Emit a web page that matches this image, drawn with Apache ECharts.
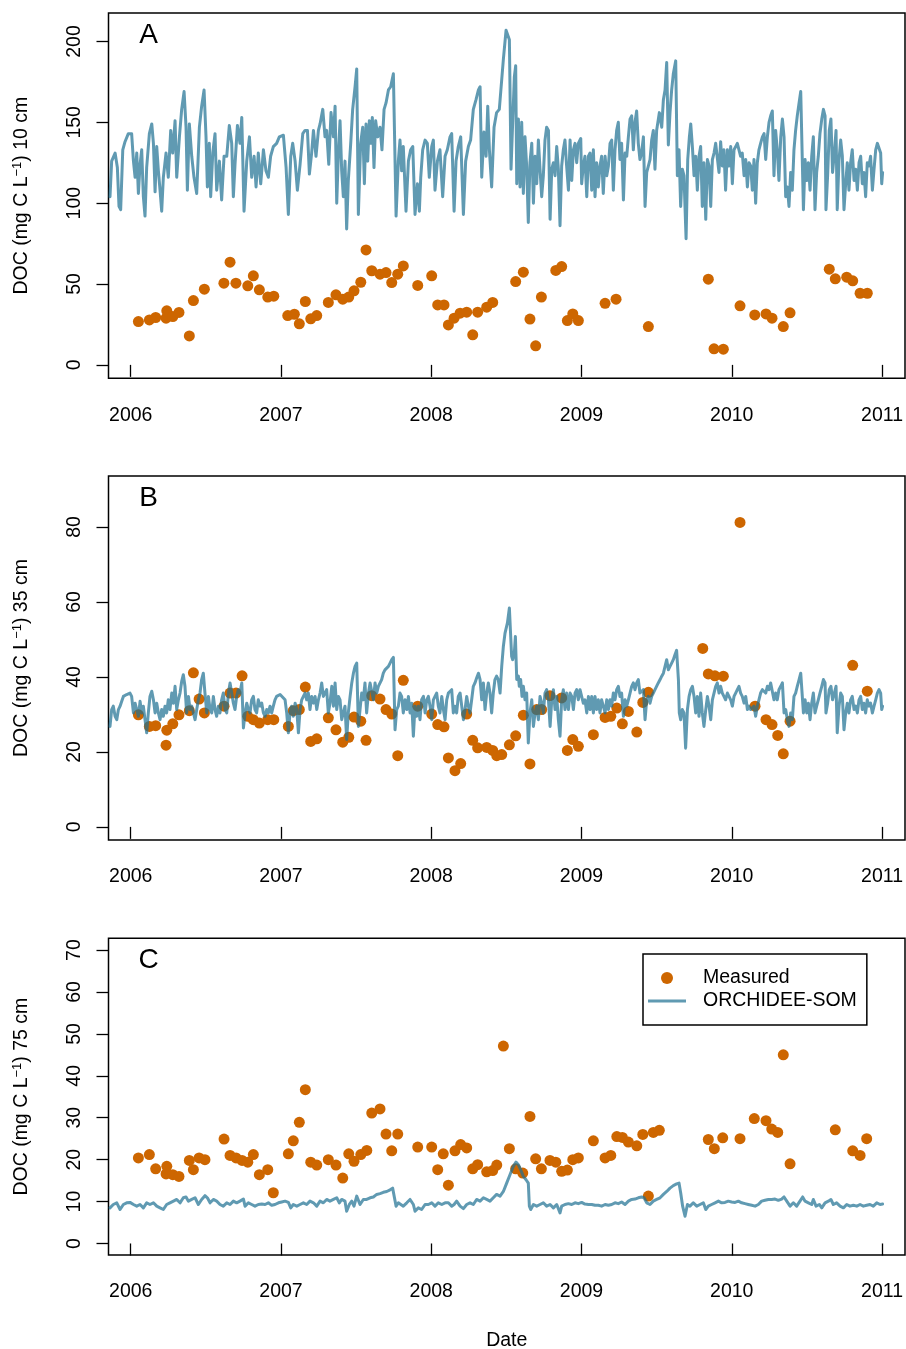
<!DOCTYPE html>
<html>
<head>
<meta charset="utf-8">
<script src="https://cdn.jsdelivr.net/npm/echarts@6/dist/echarts.min.js"></script>
<style>
html,body{margin:0;padding:0;background:#fff}
#chart{width:906px;height:1349px}
</style>
</head>
<body>
<div id="chart"></div>
<script>
// ---- data (dates as decimal years, DOC in mg C L-1) ----
const yearTicks = [2006, 2007, 2008, 2009, 2010, 2011];
const ticksA = [0, 50, 100, 150, 200];
const ticksB = [0, 20, 40, 60, 80];
const ticksC = [0, 10, 20, 30, 40, 50, 60, 70];
const panelLetters = ['A', 'B', 'C'];
const depthLabels = ['10 cm', '35 cm', '75 cm'];
const seriesNames = ['Measured', 'ORCHIDEE-SOM'];

const measuredA = [[2006.051,26.8],[2006.124,27.8],[2006.166,29.3],[2006.235,28.9],[2006.240,33.4],[2006.280,29.9],[2006.321,32.4],[2006.390,17.9],[2006.417,39.8],[2006.490,46.8],[2006.620,50.5],[2006.661,63.5],[2006.700,50.5],[2006.779,48.9],[2006.816,55.1],[2006.856,46.4],[2006.912,41.9],[2006.952,42.5],[2007.045,30.5],[2007.089,31.3],[2007.122,25.4],[2007.162,39.2],[2007.198,28.5],[2007.238,30.5],[2007.315,38.6],[2007.366,43.3],[2007.411,40.6],[2007.451,41.9],[2007.486,45.8],[2007.531,51.1],[2007.566,71.1],[2007.604,58.2],[2007.659,56.1],[2007.699,57.1],[2007.737,50.9],[2007.777,56.1],[2007.814,61.2],[2007.910,49.1],[2008.003,55.1],[2008.043,37.1],[2008.085,37.1],[2008.114,24.7],[2008.152,28.9],[2008.192,32.0],[2008.236,32.6],[2008.276,18.6],[2008.309,32.6],[2008.369,35.7],[2008.409,38.6],[2008.562,51.5],[2008.613,57.3],[2008.657,28.3],[2008.695,11.8],[2008.733,41.9],[2008.829,58.4],[2008.868,60.8],[2008.906,27.4],[2008.942,31.5],[2008.979,27.4],[2009.157,38.1],[2009.230,40.6],[2009.445,23.7],[2009.844,53.0],[2009.882,9.9],[2009.944,9.7],[2010.055,36.5],[2010.153,30.9],[2010.228,31.5],[2010.268,28.9],[2010.343,23.7],[2010.388,32.2],[2010.649,59.2],[2010.689,53.2],[2010.765,54.2],[2010.805,52.0],[2010.854,44.3],[2010.902,44.3]];

const modelA = [[2005.862,104],[2005.873,126],[2005.896,131],[2005.911,122],[2005.922,98],[2005.933,96],[2005.947,133],[2005.962,138],[2005.984,143],[2006.006,143],[2006.018,126],[2006.029,116],[2006.040,131],[2006.051,106],[2006.062,124],[2006.073,133],[2006.084,104],[2006.095,92],[2006.106,122],[2006.124,143],[2006.140,149],[2006.151,137],[2006.162,107],[2006.173,135],[2006.184,120],[2006.195,108],[2006.206,95],[2006.217,116],[2006.235,131],[2006.250,116],[2006.266,145],[2006.279,131],[2006.295,151],[2006.306,116],[2006.324,141],[2006.339,158],[2006.355,169],[2006.368,147],[2006.377,108],[2006.390,149],[2006.406,129],[2006.421,116],[2006.439,106],[2006.457,147],[2006.472,160],[2006.488,170],[2006.501,141],[2006.510,110],[2006.523,137],[2006.532,104],[2006.546,131],[2006.561,143],[2006.572,108],[2006.590,126],[2006.605,102],[2006.621,129],[2006.639,129],[2006.656,148],[2006.672,137],[2006.683,104],[2006.694,124],[2006.710,148],[2006.727,137],[2006.739,153],[2006.754,95],[2006.772,126],[2006.790,141],[2006.805,116],[2006.821,129],[2006.834,110],[2006.849,131],[2006.865,112],[2006.883,133],[2006.900,120],[2006.916,116],[2006.931,129],[2006.949,135],[2006.971,137],[2006.989,141],[2007.016,142],[2007.034,122],[2007.049,93],[2007.065,129],[2007.078,137],[2007.094,126],[2007.109,108],[2007.127,124],[2007.145,143],[2007.160,145],[2007.176,145],[2007.189,118],[2007.204,131],[2007.216,145],[2007.233,129],[2007.249,145],[2007.260,149],[2007.278,158],[2007.293,141],[2007.304,145],[2007.318,124],[2007.333,156],[2007.349,141],[2007.360,160],[2007.371,100],[2007.382,131],[2007.393,151],[2007.404,120],[2007.415,104],[2007.426,126],[2007.437,84],[2007.448,114],[2007.464,137],[2007.477,158],[2007.493,172],[2007.504,183],[2007.515,93],[2007.530,137],[2007.544,147],[2007.555,112],[2007.566,149],[2007.577,126],[2007.588,151],[2007.597,137],[2007.608,153],[2007.619,122],[2007.630,151],[2007.644,141],[2007.659,147],[2007.672,133],[2007.686,158],[2007.699,162],[2007.715,170],[2007.730,172],[2007.748,180],[2007.759,181],[2007.766,92],[2007.781,126],[2007.792,139],[2007.803,120],[2007.814,135],[2007.832,95],[2007.848,126],[2007.863,133],[2007.877,135],[2007.892,93],[2007.908,112],[2007.921,95],[2007.930,116],[2007.943,133],[2007.959,139],[2007.974,137],[2007.987,116],[2008.003,135],[2008.014,139],[2008.025,108],[2008.041,126],[2008.058,133],[2008.076,104],[2008.092,129],[2008.107,133],[2008.125,141],[2008.136,143],[2008.152,95],[2008.165,126],[2008.180,135],[2008.196,141],[2008.214,93],[2008.229,126],[2008.247,135],[2008.262,139],[2008.280,158],[2008.298,164],[2008.314,170],[2008.325,172],[2008.336,116],[2008.351,144],[2008.365,129],[2008.376,160],[2008.387,133],[2008.402,110],[2008.418,147],[2008.435,156],[2008.453,158],
[2008.480,189],[2008.498,207],[2008.509,207],[2008.520,201],[2008.531,121],[2008.542,150],[2008.553,178],[2008.562,185],[2008.569,112],[2008.580,152],[2008.591,110],[2008.602,150],[2008.613,106],[2008.624,141],[2008.635,123],[2008.646,88],[2008.657,125],[2008.669,137],[2008.680,100],[2008.691,129],[2008.702,112],[2008.713,139],[2008.724,121],[2008.735,104],[2008.746,117],[2008.757,139],[2008.768,147],[2008.780,145],[2008.791,90],[2008.802,121],[2008.813,125],[2008.824,117],[2008.835,135],[2008.846,121],[2008.857,86],[2008.868,123],[2008.879,133],[2008.890,139],[2008.901,123],[2008.913,108],[2008.924,139],[2008.935,114],[2008.946,133],[2008.957,137],[2008.968,125],[2008.979,137],[2008.995,140],[2009.001,112],[2009.012,123],[2009.023,129],[2009.035,104],[2009.046,129],[2009.057,131],[2009.068,108],[2009.079,133],[2009.090,104],[2009.101,125],[2009.112,110],[2009.123,123],[2009.134,129],[2009.145,106],[2009.157,129],[2009.168,117],[2009.179,123],[2009.190,137],[2009.201,139],[2009.212,108],[2009.223,133],[2009.234,145],[2009.245,150],[2009.256,127],[2009.267,137],[2009.279,102],[2009.290,131],[2009.301,129],[2009.312,141],[2009.323,152],[2009.334,154],[2009.345,133],[2009.356,150],[2009.367,157],[2009.378,137],[2009.389,127],[2009.400,131],[2009.412,141],[2009.423,98],[2009.434,119],[2009.445,119],[2009.456,127],[2009.467,139],[2009.478,145],[2009.489,121],[2009.500,145],[2009.518,156],[2009.534,147],[2009.545,164],[2009.556,170],[2009.567,187],[2009.578,136],[2009.589,156],[2009.600,170],[2009.611,180],[2009.627,188],[2009.638,117],[2009.649,133],[2009.660,98],[2009.671,121],[2009.682,117],[2009.696,78],[2009.707,127],[2009.718,141],[2009.727,149],[2009.738,135],[2009.749,117],[2009.760,129],[2009.771,108],[2009.782,129],[2009.793,135],[2009.804,98],[2009.815,125],[2009.827,90],[2009.838,127],[2009.849,123],[2009.860,98],[2009.871,127],[2009.882,131],[2009.893,137],[2009.904,138],[2009.915,119],[2009.926,138],[2009.937,123],[2009.948,133],[2009.959,108],[2009.971,133],[2009.982,123],[2009.993,135],[2010.004,112],[2010.015,133],[2010.026,135],[2010.037,137],[2010.048,138],[2010.059,129],[2010.070,131],[2010.082,117],[2010.093,127],[2010.104,110],[2010.115,125],[2010.126,123],[2010.137,108],[2010.148,127],[2010.159,100],[2010.170,125],[2010.181,133],[2010.192,137],[2010.204,141],[2010.215,143],[2010.226,127],[2010.237,141],[2010.248,150],[2010.259,154],[2010.270,157],[2010.281,117],[2010.292,145],[2010.303,133],[2010.314,114],[2010.326,141],[2010.337,152],[2010.348,141],[2010.359,104],[2010.370,110],[2010.381,98],[2010.392,119],[2010.403,108],[2010.414,133],[2010.425,145],[2010.436,154],[2010.448,162],[2010.459,169],[2010.470,170],[2010.477,96],[2010.488,127],[2010.499,114],[2010.510,125],[2010.521,108],[2010.532,129],[2010.543,141],[2010.554,96],[2010.565,119],[2010.576,129],[2010.587,143],[2010.599,152],[2010.610,158],[2010.621,154],[2010.627,96],[2010.638,117],[2010.649,145],[2010.660,152],[2010.671,119],[2010.683,131],[2010.694,145],[2010.702,96],[2010.714,127],[2010.725,139],[2010.736,129],[2010.747,96],[2010.758,112],[2010.769,125],[2010.780,108],[2010.791,125],[2010.802,133],[2010.814,114],[2010.825,121],[2010.836,108],[2010.847,125],[2010.858,129],[2010.869,112],[2010.880,119],[2010.891,104],[2010.902,125],[2010.913,123],[2010.924,129],[2010.936,108],[2010.947,121],[2010.958,133],[2010.969,137],[2010.980,138],[2010.991,131],[2010.998,112],[2011.004,119]];

const measuredB = [[2006.051,29.9],[2006.124,26.8],[2006.166,27.0],[2006.235,21.8],[2006.240,25.8],[2006.280,27.5],[2006.321,29.9],[2006.390,31.0],[2006.417,41.1],[2006.455,34.1],[2006.490,30.4],[2006.621,32.2],[2006.661,35.7],[2006.701,35.7],[2006.741,40.3],[2006.779,29.5],[2006.816,28.6],[2006.856,27.7],[2006.912,28.6],[2006.952,28.6],[2007.049,26.8],[2007.082,31.0],[2007.122,31.3],[2007.162,37.3],[2007.198,22.8],[2007.238,23.5],[2007.315,29.1],[2007.366,25.9],[2007.411,22.6],[2007.451,23.9],[2007.486,29.3],[2007.531,28.2],[2007.566,23.1],[2007.604,35.0],[2007.659,34.1],[2007.699,31.3],[2007.737,30.1],[2007.777,19.0],[2007.814,39.1],[2007.910,32.2],[2008.003,30.1],[2008.043,27.3],[2008.085,26.7],[2008.114,18.4],[2008.158,15.0],[2008.196,16.9],[2008.236,30.1],[2008.276,23.1],[2008.309,21.1],[2008.369,21.2],[2008.409,20.4],[2008.436,19.0],[2008.469,19.3],[2008.520,21.9],[2008.562,24.3],[2008.613,29.8],[2008.657,16.8],[2008.702,31.3],[2008.735,31.3],[2008.790,35.0],[2008.868,34.4],[2008.906,20.4],[2008.942,23.3],[2008.979,21.5],[2009.079,24.6],[2009.157,29.2],[2009.195,29.5],[2009.235,31.7],[2009.272,27.5],[2009.312,30.8],[2009.368,25.3],[2009.408,33.2],[2009.445,35.9],[2009.807,47.6],[2009.844,40.8],[2009.888,40.3],[2009.944,40.2],[2010.055,81.2],[2010.155,32.2],[2010.228,28.6],[2010.268,27.3],[2010.306,24.4],[2010.343,19.5],[2010.388,28.2],[2010.805,43.1],[2010.902,36.2]];

const modelB = [[2005.862,26.8],[2005.873,31.3],[2005.884,32.2],[2005.896,29.5],[2005.907,28.6],[2005.918,31.3],[2005.929,32.2],[2005.940,33.5],[2005.951,34.8],[2005.973,35.3],[2005.995,35.7],[2006.006,34.8],[2006.018,30.4],[2006.029,33.0],[2006.040,31.3],[2006.051,29.5],[2006.062,33.5],[2006.073,30.4],[2006.084,32.2],[2006.095,28.6],[2006.106,25.1],[2006.117,30.4],[2006.128,34.8],[2006.140,36.2],[2006.151,33.9],[2006.162,30.4],[2006.173,33.0],[2006.184,30.4],[2006.195,28.6],[2006.206,31.3],[2006.217,29.5],[2006.228,32.2],[2006.239,30.4],[2006.250,33.9],[2006.261,31.3],[2006.273,35.7],[2006.284,33.0],[2006.295,37.5],[2006.306,31.3],[2006.317,33.9],[2006.328,35.7],[2006.339,38.8],[2006.350,40.6],[2006.361,37.5],[2006.372,30.4],[2006.384,34.8],[2006.395,31.3],[2006.406,32.2],[2006.417,30.4],[2006.428,28.6],[2006.439,28.6],[2006.450,33.9],[2006.461,35.7],[2006.472,39.3],[2006.483,41.0],[2006.494,35.7],[2006.506,30.4],[2006.517,34.8],[2006.528,31.3],[2006.539,30.4],[2006.550,34.8],[2006.561,31.3],[2006.572,29.5],[2006.583,32.2],[2006.594,30.4],[2006.605,33.9],[2006.616,35.7],[2006.628,31.3],[2006.639,30.4],[2006.650,35.7],[2006.661,38.4],[2006.672,35.7],[2006.683,33.0],[2006.694,31.3],[2006.705,34.8],[2006.716,36.6],[2006.727,35.7],[2006.739,38.4],[2006.750,26.4],[2006.761,30.4],[2006.772,33.0],[2006.783,31.3],[2006.794,30.4],[2006.805,33.9],[2006.816,34.8],[2006.827,31.3],[2006.838,30.4],[2006.849,33.9],[2006.861,32.2],[2006.872,33.0],[2006.883,30.4],[2006.894,29.5],[2006.905,31.3],[2006.916,30.4],[2006.927,32.2],[2006.938,30.4],[2006.949,32.2],[2006.960,33.9],[2006.971,34.8],[2006.994,35.3],[2007.005,34.8],[2007.027,33.9],[2007.038,30.4],[2007.049,25.1],[2007.060,30.4],[2007.071,32.2],[2007.082,29.5],[2007.094,33.0],[2007.105,31.3],[2007.116,25.1],[2007.127,31.3],[2007.138,33.9],[2007.149,34.8],[2007.160,35.7],[2007.171,33.9],[2007.182,35.7],[2007.193,31.3],[2007.204,34.8],[2007.216,33.0],[2007.227,34.8],[2007.238,31.3],[2007.249,33.9],[2007.260,35.7],[2007.271,38.4],[2007.282,34.8],[2007.293,35.7],[2007.304,36.6],[2007.315,30.4],[2007.326,33.0],[2007.338,37.5],[2007.349,32.2],[2007.360,38.4],[2007.371,31.3],[2007.382,34.8],[2007.393,33.9],[2007.404,28.6],[2007.415,30.4],[2007.426,32.2],[2007.437,23.3],[2007.448,30.4],[2007.460,34.8],[2007.471,38.4],[2007.482,41.0],[2007.493,42.8],[2007.504,43.7],[2007.515,26.8],[2007.526,31.3],[2007.537,35.7],[2007.548,33.9],[2007.559,38.4],[2007.570,30.4],[2007.582,35.7],[2007.593,38.4],[2007.604,37.9],[2007.615,33.9],[2007.626,38.4],[2007.637,35.7],[2007.648,37.5],[2007.659,37.5],[2007.670,39.3],[2007.681,41.0],[2007.692,41.9],[2007.704,42.4],[2007.715,42.8],[2007.726,43.7],[2007.737,44.6],[2007.748,45.2],[2007.759,25.9],[2007.770,31.3],[2007.781,32.2],[2007.792,35.7],[2007.803,34.8],[2007.814,30.4],[2007.826,33.9],[2007.837,31.3],[2007.848,34.8],[2007.859,30.4],[2007.870,33.0],[2007.881,24.2],[2007.892,32.2],[2007.903,29.5],[2007.914,32.2],[2007.925,28.6],[2007.936,33.9],[2007.948,34.8],[2007.959,30.4],[2007.970,33.9],[2007.981,34.8],[2007.992,32.2],[2008.003,28.6],[2008.014,33.9],[2008.025,34.8],[2008.036,35.7],[2008.047,32.2],[2008.058,30.4],[2008.070,34.8],[2008.081,31.3],[2008.092,28.6],[2008.103,33.9],[2008.114,35.7],[2008.125,35.7],[2008.136,36.6],[2008.147,30.4],[2008.158,32.2],[2008.169,30.4],[2008.180,34.8],[2008.192,35.7],[2008.203,35.7],[2008.214,28.6],[2008.225,31.3],[2008.236,34.8],[2008.247,32.2],[2008.258,30.4],[2008.269,33.9],[2008.280,37.5],[2008.291,38.4],[2008.302,39.7],[2008.314,41.0],[2008.325,39.3],[2008.336,33.9],[2008.347,38.4],[2008.358,31.3],[2008.369,35.7],[2008.380,38.4],[2008.391,35.7],[2008.402,30.4],[2008.413,35.7],[2008.424,39.3],[2008.435,40.2],[2008.446,39.3],
[2008.458,35.7],[2008.469,42.8],[2008.480,48.2],[2008.491,51.7],[2008.507,54.4],[2008.520,58.4],[2008.529,57.9],[2008.535,45.5],[2008.542,44.6],[2008.553,46.4],[2008.560,50.8],[2008.569,39.3],[2008.580,40.2],[2008.586,37.5],[2008.595,39.3],[2008.604,34.8],[2008.613,37.5],[2008.624,33.9],[2008.635,35.7],[2008.646,22.4],[2008.657,30.4],[2008.669,33.9],[2008.680,26.8],[2008.691,30.4],[2008.702,32.2],[2008.713,28.6],[2008.724,34.8],[2008.735,33.0],[2008.746,30.4],[2008.757,35.7],[2008.768,36.6],[2008.780,33.9],[2008.791,26.8],[2008.802,33.9],[2008.813,36.6],[2008.824,31.3],[2008.835,34.8],[2008.846,28.6],[2008.857,24.2],[2008.868,33.9],[2008.879,36.6],[2008.890,31.3],[2008.901,35.7],[2008.913,31.3],[2008.924,35.7],[2008.935,34.8],[2008.946,31.3],[2008.957,35.7],[2008.968,36.6],[2008.979,33.9],[2008.990,36.6],[2009.001,36.6],[2009.012,33.0],[2009.023,33.9],[2009.035,30.4],[2009.046,34.8],[2009.057,31.3],[2009.068,34.8],[2009.079,30.4],[2009.090,34.8],[2009.101,31.3],[2009.112,33.9],[2009.123,30.4],[2009.134,33.9],[2009.145,32.2],[2009.157,30.4],[2009.168,33.9],[2009.179,31.3],[2009.190,33.9],[2009.201,32.2],[2009.212,35.7],[2009.223,33.9],[2009.234,36.6],[2009.245,37.5],[2009.256,34.8],[2009.267,35.7],[2009.279,29.5],[2009.290,33.9],[2009.301,32.2],[2009.312,33.9],[2009.323,35.7],[2009.334,37.5],[2009.345,38.4],[2009.356,36.6],[2009.367,38.4],[2009.378,39.3],[2009.389,35.7],[2009.400,35.7],[2009.412,36.6],[2009.423,28.6],[2009.434,33.9],[2009.445,34.8],[2009.456,33.0],[2009.467,34.8],[2009.478,35.7],[2009.489,36.6],[2009.500,36.6],[2009.511,38.4],[2009.523,39.3],[2009.534,40.2],[2009.545,41.0],[2009.556,42.8],[2009.567,44.6],[2009.578,41.9],[2009.589,42.8],[2009.600,43.7],[2009.611,44.6],[2009.622,45.9],[2009.633,47.1],[2009.645,39.3],[2009.651,30.4],[2009.660,28.6],[2009.671,31.3],[2009.682,30.4],[2009.693,21.0],[2009.705,31.3],[2009.716,34.8],[2009.727,36.6],[2009.738,37.5],[2009.749,34.8],[2009.760,30.4],[2009.771,34.8],[2009.782,29.5],[2009.793,35.7],[2009.804,30.4],[2009.815,26.8],[2009.827,31.3],[2009.838,34.8],[2009.849,32.2],[2009.860,28.6],[2009.871,33.9],[2009.882,35.7],[2009.893,37.5],[2009.904,38.4],[2009.915,35.7],[2009.926,37.5],[2009.937,35.7],[2009.948,34.8],[2009.959,33.9],[2009.971,35.7],[2009.982,35.7],[2009.993,33.9],[2010.004,32.2],[2010.015,34.8],[2010.026,35.7],[2010.037,36.6],[2010.048,37.5],[2010.059,35.7],[2010.070,34.8],[2010.082,33.0],[2010.093,34.8],[2010.104,31.3],[2010.115,32.2],[2010.126,31.3],[2010.137,31.3],[2010.148,32.2],[2010.159,29.5],[2010.170,32.2],[2010.181,33.9],[2010.192,35.7],[2010.204,36.6],[2010.215,37.1],[2010.226,35.7],[2010.237,37.5],[2010.248,36.6],[2010.259,38.4],[2010.270,38.8],[2010.281,33.9],[2010.292,35.7],[2010.303,33.9],[2010.314,36.6],[2010.326,37.5],[2010.337,38.4],[2010.348,30.4],[2010.359,31.3],[2010.370,28.6],[2010.381,26.8],[2010.392,30.4],[2010.403,28.6],[2010.414,34.8],[2010.425,35.7],[2010.436,37.5],[2010.448,39.3],[2010.459,41.0],[2010.470,41.5],[2010.477,30.4],[2010.488,33.9],[2010.499,30.4],[2010.510,33.0],[2010.521,28.6],[2010.532,33.0],[2010.543,35.7],[2010.554,30.4],[2010.565,32.2],[2010.576,33.9],[2010.587,35.7],[2010.599,37.5],[2010.610,39.3],[2010.621,38.4],[2010.627,30.4],[2010.638,33.0],[2010.649,36.6],[2010.660,37.5],[2010.671,33.9],[2010.683,35.7],[2010.694,37.5],[2010.702,25.1],[2010.714,32.2],[2010.725,35.7],[2010.736,34.8],[2010.747,25.9],[2010.758,30.4],[2010.769,33.0],[2010.780,30.4],[2010.791,33.9],[2010.802,34.8],[2010.814,31.3],[2010.825,32.2],[2010.836,30.4],[2010.847,33.9],[2010.858,34.8],[2010.869,31.3],[2010.880,33.0],[2010.891,30.4],[2010.902,33.9],[2010.913,32.2],[2010.924,33.0],[2010.936,30.4],[2010.947,32.2],[2010.958,33.9],[2010.969,35.7],[2010.980,36.6],[2010.991,35.7],[2010.998,31.3],[2011.004,32.2]];

const measuredC = [[2006.051,20.4],[2006.124,21.2],[2006.166,17.8],[2006.235,16.6],[2006.240,18.4],[2006.280,16.4],[2006.321,16.0],[2006.390,19.8],[2006.417,17.6],[2006.455,20.4],[2006.494,20.0],[2006.621,24.9],[2006.661,21.0],[2006.701,20.4],[2006.741,19.8],[2006.779,19.4],[2006.816,21.2],[2006.856,16.4],[2006.912,17.6],[2006.949,12.1],[2007.049,21.4],[2007.082,24.5],[2007.122,28.9],[2007.162,36.7],[2007.198,19.4],[2007.238,18.7],[2007.315,20.0],[2007.366,18.7],[2007.411,15.6],[2007.451,21.4],[2007.486,19.6],[2007.531,21.2],[2007.571,22.2],[2007.604,31.1],[2007.659,32.1],[2007.699,26.1],[2007.737,22.1],[2007.777,26.1],[2007.910,23.0],[2008.003,23.0],[2008.043,17.6],[2008.080,21.4],[2008.114,13.9],[2008.158,22.1],[2008.196,23.6],[2008.236,22.8],[2008.276,17.8],[2008.309,18.8],[2008.369,17.1],[2008.409,17.4],[2008.436,18.7],[2008.480,47.1],[2008.520,22.6],[2008.562,17.8],[2008.609,16.8],[2008.657,30.3],[2008.695,20.2],[2008.733,17.8],[2008.790,19.8],[2008.829,19.4],[2008.868,17.2],[2008.906,17.5],[2008.942,20.0],[2008.979,20.4],[2009.079,24.5],[2009.157,20.4],[2009.195,21.0],[2009.235,25.5],[2009.272,25.3],[2009.312,24.2],[2009.368,23.3],[2009.408,26.0],[2009.445,11.3],[2009.478,26.5],[2009.518,27.0],[2009.844,24.8],[2009.884,22.6],[2009.940,25.2],[2010.055,25.0],[2010.150,29.8],[2010.228,29.3],[2010.266,27.3],[2010.306,26.5],[2010.343,45.0],[2010.388,19.0],[2010.689,27.1],[2010.805,22.1],[2010.854,21.0],[2010.898,25.0]];

const modelC = [[2005.862,8.5],[2005.884,9.3],[2005.907,9.7],[2005.929,8.1],[2005.951,9.3],[2005.973,9.7],[2005.995,9.8],[2006.018,9.3],[2006.040,8.9],[2006.062,9.3],[2006.084,8.5],[2006.106,9.7],[2006.128,9.3],[2006.151,9.7],[2006.173,8.9],[2006.195,8.5],[2006.217,8.1],[2006.239,9.3],[2006.261,9.7],[2006.284,10.1],[2006.306,10.5],[2006.328,9.7],[2006.350,10.9],[2006.368,11.1],[2006.384,10.1],[2006.406,10.5],[2006.428,10.9],[2006.450,9.3],[2006.472,10.5],[2006.494,11.4],[2006.510,10.9],[2006.528,9.7],[2006.550,10.5],[2006.572,10.1],[2006.594,9.3],[2006.616,8.9],[2006.639,9.7],[2006.661,9.3],[2006.683,10.1],[2006.705,9.7],[2006.727,10.1],[2006.750,10.6],[2006.761,8.9],[2006.783,9.7],[2006.805,9.3],[2006.827,8.9],[2006.849,9.3],[2006.872,9.4],[2006.894,9.3],[2006.916,9.7],[2006.938,9.1],[2006.960,9.3],[2006.983,9.7],[2007.005,9.9],[2007.027,10.1],[2007.049,9.8],[2007.065,8.5],[2007.082,9.3],[2007.105,8.9],[2007.127,9.3],[2007.149,9.7],[2007.171,9.3],[2007.193,10.1],[2007.216,9.7],[2007.238,8.9],[2007.260,10.1],[2007.282,9.7],[2007.304,10.5],[2007.326,10.1],[2007.349,10.5],[2007.371,10.9],[2007.388,9.7],[2007.404,10.5],[2007.426,10.1],[2007.437,7.7],[2007.455,9.3],[2007.471,10.1],[2007.486,8.9],[2007.504,11.3],[2007.515,10.9],[2007.526,9.3],[2007.548,10.5],[2007.570,10.5],[2007.593,10.9],[2007.615,11.1],[2007.637,11.7],[2007.659,11.9],[2007.681,12.2],[2007.704,12.4],[2007.726,12.8],[2007.743,13.2],[2007.754,13.6],[2007.766,8.9],[2007.781,9.7],[2007.792,10.1],[2007.814,8.9],[2007.837,9.7],[2007.859,10.5],[2007.881,9.3],[2007.892,7.7],[2007.914,8.5],[2007.936,8.1],[2007.959,9.3],[2007.981,9.3],[2008.003,9.7],[2008.025,8.9],[2008.047,9.7],[2008.070,9.3],[2008.092,9.7],[2008.114,9.7],[2008.136,8.9],[2008.152,9.3],[2008.169,10.1],[2008.192,8.9],[2008.214,8.3],[2008.236,9.3],[2008.258,9.7],[2008.280,9.3],[2008.302,10.5],[2008.325,10.1],[2008.347,10.9],[2008.369,10.5],[2008.391,10.1],[2008.413,10.9],[2008.435,11.7],[2008.458,11.3],[2008.480,12.4],[2008.502,14.4],[2008.524,16.4],[2008.546,18.4],[2008.564,19.4],[2008.580,18.8],[2008.595,17.6],[2008.613,16.0],[2008.631,15.2],[2008.646,14.4],[2008.653,8.9],[2008.662,8.1],[2008.680,9.3],[2008.702,8.9],[2008.724,9.3],[2008.746,9.7],[2008.768,8.9],[2008.791,9.3],[2008.813,8.5],[2008.835,9.3],[2008.857,7.3],[2008.868,8.9],[2008.890,9.3],[2008.913,9.5],[2008.935,9.3],[2008.957,9.7],[2008.979,9.5],[2009.001,9.8],[2009.023,9.4],[2009.046,9.3],[2009.068,9.3],[2009.090,9.1],[2009.112,9.1],[2009.134,8.9],[2009.157,9.3],[2009.179,9.1],[2009.201,9.3],[2009.223,9.7],[2009.245,9.5],[2009.267,9.9],[2009.290,9.3],[2009.312,10.1],[2009.334,10.5],[2009.356,10.6],[2009.378,10.9],[2009.400,11.1],[2009.416,10.9],[2009.434,9.7],[2009.456,9.3],[2009.478,10.1],[2009.500,10.5],[2009.523,10.9],[2009.545,11.7],[2009.567,12.4],[2009.589,13.2],[2009.611,13.8],[2009.633,14.2],[2009.649,14.4],[2009.660,12.1],[2009.673,8.9],[2009.689,6.5],[2009.705,9.3],[2009.722,8.9],[2009.744,9.7],[2009.767,8.9],[2009.789,9.3],[2009.811,9.7],[2009.827,8.1],[2009.844,8.9],[2009.866,9.3],[2009.889,9.7],[2009.911,10.1],[2009.933,9.7],[2009.955,9.8],[2009.977,10.1],[2009.999,9.9],[2010.022,9.8],[2010.044,10.1],[2010.066,9.7],[2010.088,9.5],[2010.110,9.3],[2010.133,9.1],[2010.155,8.9],[2010.177,9.3],[2010.199,10.1],[2010.221,10.3],[2010.244,10.5],[2010.266,10.5],[2010.288,10.6],[2010.310,10.3],[2010.332,10.6],[2010.348,11.1],[2010.366,10.1],[2010.388,8.9],[2010.410,9.7],[2010.432,8.9],[2010.454,10.1],[2010.472,11.1],[2010.488,10.1],[2010.510,9.7],[2010.532,9.3],[2010.543,10.5],[2010.561,8.9],[2010.583,9.3],[2010.599,8.5],[2010.621,9.7],[2010.643,10.1],[2010.660,10.5],[2010.676,9.3],[2010.698,9.7],[2010.721,8.9],[2010.743,8.5],[2010.765,9.3],[2010.787,8.9],[2010.809,9.1],[2010.832,8.9],[2010.854,9.3],[2010.876,8.9],[2010.898,9.1],[2010.920,9.3],[2010.942,8.9],[2010.965,9.7],[2010.987,9.3],[2011.004,9.4]];

// ---- layout and styling ----
const FONT = '"Liberation Sans", Arial, Helvetica, sans-serif';
const DOT_COLOR = '#CD6600';
const LINE_COLOR = 'rgb(31,113,147)';
const LINE_ON_WHITE = '#609AB2';
const X_MIN = 2005.852, X_MAX = 2011.153;
const GRID_LEFT = 108.5, GRID_WIDTH = 796.5;

const panels = [
  { top: 13,    height: 365.3, ymin: -8.3,  ymax: 217.6, ticks: ticksA, measured: measuredA, model: modelA },
  { top: 476,   height: 364,   ymin: -3.5,  ymax: 93.6,  ticks: ticksB, measured: measuredB, model: modelB },
  { top: 938.3, height: 316.7, ymin: -2.75, ymax: 72.8,  ticks: ticksC, measured: measuredC, model: modelC }
];

const tickLine = { color: '#000', width: 1.3 };
const labelText = { fontSize: 19.5, color: '#000', fontFamily: FONT };

const option = {
  animation: false,
  backgroundColor: '#fff',
  grid: panels.map(p => ({
    left: GRID_LEFT, top: p.top, width: GRID_WIDTH, height: p.height,
    show: true, borderColor: '#000', borderWidth: 1.5, backgroundColor: 'transparent',
    containLabel: false, outerBoundsMode: 'none'
  })),
  xAxis: panels.map((p, i) => ({
    gridIndex: i, type: 'value', min: X_MIN, max: X_MAX,
    axisLine: { show: false }, splitLine: { show: false },
    axisTick: { show: true, length: 12, customValues: yearTicks, lineStyle: tickLine },
    axisLabel: Object.assign({ customValues: yearTicks, margin: 27,
      formatter: v => String(Math.round(v)) }, labelText),
    name: i === 2 ? 'Date' : '', nameLocation: 'middle', nameGap: 76,
    nameTextStyle: labelText
  })),
  yAxis: panels.map((p, i) => ({
    gridIndex: i, type: 'value', min: p.ymin, max: p.ymax,
    axisLine: { show: false }, splitLine: { show: false },
    axisTick: { show: true, length: 12, customValues: p.ticks, lineStyle: tickLine },
    axisLabel: Object.assign({ customValues: p.ticks, rotate: 90, margin: 24,
      formatter: v => String(Math.round(v)) }, labelText),
    name: 'DOC (mg C L{sup|\u22121}) ' + depthLabels[i],
    nameLocation: 'middle', nameRotate: 90, nameGap: 75.5,
    nameTextStyle: Object.assign({ lineHeight: 22, rich: {
      sup: { fontSize: 13, fontFamily: FONT, color: '#000', verticalAlign: 'top', lineHeight: 22 }
    } }, labelText)
  })),
  legend: {
    left: 643, top: 954, orient: 'vertical',
    data: [
      { name: seriesNames[0], icon: 'circle' },
      { name: seriesNames[1], icon: 'path://M0,0H38V3H0Z', itemStyle: { color: LINE_ON_WHITE, opacity: 1, borderWidth: 0 } }
    ],
    symbolKeepAspect: true,
    itemWidth: 38, itemHeight: 12, itemGap: 3,
    padding: [14, 10, 14, 5],
    borderColor: '#000', borderWidth: 1.5, borderRadius: 0,
    backgroundColor: '#fff',
    selectedMode: false,
    textStyle: Object.assign({ padding: [0, 0, 0, 12] }, labelText)
  },
  graphic: panelLetters.map((t, i) => ({
    type: 'text', x: 148.5, y: panels[i].top + 22.2, z: 100,
    style: { text: t, font: '28px ' + FONT, fill: '#000',
      align: 'center', verticalAlign: 'middle', textAlign: 'center', textVerticalAlign: 'middle' }
  })),
  series: []
};

panels.forEach((p, i) => {
  option.series.push({
    type: 'scatter', name: seriesNames[0], xAxisIndex: i, yAxisIndex: i,
    data: p.measured, symbol: 'circle', symbolSize: 11,
    itemStyle: { color: DOT_COLOR, opacity: 1 }, z: 2,
    emphasis: { disabled: true }
  });
  option.series.push({
    type: 'line', name: seriesNames[1], xAxisIndex: i, yAxisIndex: i,
    data: p.model, showSymbol: false, symbol: 'none', smooth: false,
    lineStyle: { color: LINE_COLOR, width: 3, opacity: 0.71, join: 'round', cap: 'round' },
    itemStyle: { color: LINE_COLOR }, z: 3,
    emphasis: { disabled: true }
  });
});

const chart = echarts.init(document.getElementById('chart'), null, { renderer: 'canvas' });
chart.setOption(option);
</script>
</body>
</html>
